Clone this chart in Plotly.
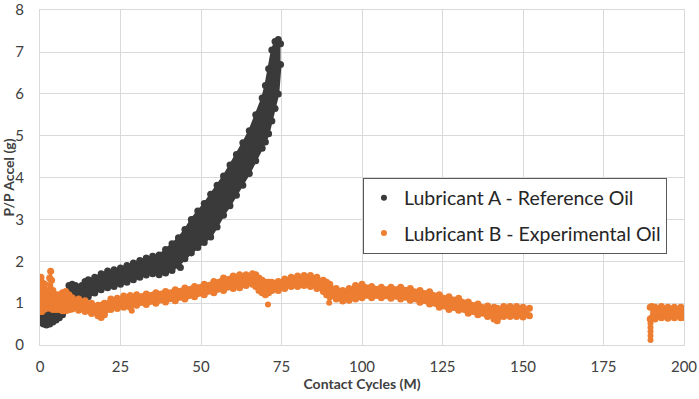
import plotly.graph_objects as go

# ---------------- data ----------------
# Lubricant A - Reference Oil : band of scattered points (lower / upper envelope)
a_x  = [0, 0.5, 1, 2, 3, 4, 5, 6, 7, 8, 9, 10, 11, 12, 13, 14, 15, 17, 19, 21, 23, 25, 27, 29,
        31, 33, 35, 37, 39, 41, 43, 45, 47, 49, 51, 53, 55, 57, 59, 61, 63, 65, 67, 69, 70, 71,
        72, 73, 74, 74.7]
a_lo = [0.58, 0.55, 0.5, 0.48, 0.5, 0.55, 0.6, 0.65, 0.72, 0.85, 1.05, 1.1, 1.05, 1.02, 1.03,
        1.1, 1.15, 1.24, 1.32, 1.37, 1.4, 1.45, 1.5, 1.56, 1.62, 1.67, 1.7, 1.68, 1.72, 1.78,
        1.9, 2.06, 2.2, 2.33, 2.45, 2.58, 2.82, 3.1, 3.33, 3.58, 3.82, 4.1, 4.4, 4.7, 4.85,
        5.05, 5.35, 5.65, 6.0, 6.7]
a_hi = [1.1, 1.0, 0.75, 0.68, 0.75, 0.8, 0.85, 0.92, 1.0, 1.1, 1.42, 1.45, 1.42, 1.38, 1.42,
        1.52, 1.56, 1.62, 1.7, 1.77, 1.8, 1.84, 1.9, 1.96, 2.02, 2.08, 2.12, 2.15, 2.28, 2.42,
        2.56, 2.76, 3.0, 3.2, 3.38, 3.6, 3.82, 4.04, 4.3, 4.55, 4.83, 5.12, 5.5, 5.9, 6.2, 6.6,
        7.05, 7.25, 7.3, 7.2]
a_out_x = [43.6]
a_out_y = [1.85]

# Lubricant B - Experimental Oil : first run (lower / upper envelope)
b_x  = [0, 0.3, 0.6, 1, 1.5, 2, 2.5, 3, 3.3, 3.6, 4, 5, 6, 7, 8, 9, 10, 12, 14, 16, 18, 19, 20,
        22, 24, 26, 28, 30, 33, 36, 39, 42, 45, 48, 51, 54, 57, 60, 62, 64, 66, 67, 68, 69, 70,
        71, 72, 74, 76, 78, 80, 82, 84, 86, 88, 89, 90, 92, 94, 96, 98, 100, 103, 106, 109, 112,
        115, 118, 121, 124, 127, 130, 133, 136, 139, 141, 142, 144, 146, 148, 150, 152]
b_lo = [0.8, 0.85, 0.8, 0.85, 0.9, 0.9, 0.88, 0.9, 0.95, 0.9, 0.85, 0.85, 0.85, 0.82, 0.82,
        0.84, 0.86, 0.83, 0.8, 0.75, 0.7, 0.66, 0.72, 0.85, 0.87, 0.9, 0.9, 0.95, 0.97, 1.0,
        1.03, 1.06, 1.1, 1.15, 1.2, 1.25, 1.3, 1.35, 1.37, 1.42, 1.45, 1.4, 1.3, 1.25, 1.2,
        1.25, 1.3, 1.3, 1.35, 1.4, 1.4, 1.42, 1.4, 1.35, 1.28, 1.2, 1.15, 1.1, 1.05, 1.07,
        1.1, 1.13, 1.13, 1.13, 1.12, 1.1, 1.07, 1.02, 0.98, 0.9, 0.85, 0.83, 0.76, 0.72, 0.68,
        0.62, 0.58, 0.68, 0.68, 0.68, 0.67, 0.7]
b_hi = [1.2, 1.62, 1.5, 1.25, 1.45, 1.3, 1.25, 1.6, 1.76, 1.55, 1.3, 1.2, 1.2, 1.25, 1.28,
        1.2, 1.13, 1.1, 1.06, 1.0, 0.95, 0.95, 1.0, 1.1, 1.12, 1.17, 1.18, 1.2, 1.22, 1.25,
        1.28, 1.32, 1.36, 1.4, 1.45, 1.52, 1.6, 1.65, 1.68, 1.68, 1.7, 1.68, 1.6, 1.55, 1.5,
        1.5, 1.5, 1.52, 1.58, 1.62, 1.65, 1.66, 1.66, 1.62, 1.55, 1.5, 1.45, 1.35, 1.3, 1.35,
        1.42, 1.45, 1.4, 1.38, 1.38, 1.38, 1.35, 1.3, 1.27, 1.2, 1.15, 1.12, 1.03, 0.98, 0.93,
        0.9, 0.88, 0.92, 0.92, 0.92, 0.9, 0.88]
# second run
b2_x  = [189.5, 190, 191, 193, 195, 197, 199, 200]
b2_lo = [0.62, 0.65, 0.62, 0.65, 0.64, 0.65, 0.65, 0.66]
b2_hi = [0.9, 0.92, 0.9, 0.92, 0.9, 0.9, 0.9, 0.88]
b_out_x = [28.5, 70.8, 89.8, 189.6, 189.6, 189.6, 189.6, 189.6]
b_out_y = [0.82, 0.97, 1.01, 0.12, 0.22, 0.32, 0.42, 0.52]

x_ticks = [0, 25, 50, 75, 100, 125, 150, 175, 200]
y_ticks = [0, 1, 2, 3, 4, 5, 6, 7, 8]

name_a = "Lubricant A - Reference Oil"
name_b = "Lubricant B - Experimental Oil"
col_a = "#3a3a3a"
col_b = "#ed7d31"

fig = go.Figure()


def band(xs, lo, hi, color):
    fig.add_trace(go.Scatter(x=xs, y=lo, mode="lines+markers", line=dict(color=color, width=2),
                             marker=dict(size=7, color=color), showlegend=False, hoverinfo="skip"))
    fig.add_trace(go.Scatter(x=xs, y=hi, mode="lines+markers", line=dict(color=color, width=2),
                             marker=dict(size=7, color=color), fill="tonexty", fillcolor=color,
                             showlegend=False, hoverinfo="skip"))


band(a_x, a_lo, a_hi, col_a)
band(b_x, b_lo, b_hi, col_b)
band(b2_x, b2_lo, b2_hi, col_b)
fig.add_trace(go.Scatter(x=a_out_x, y=a_out_y, mode="markers", marker=dict(size=7, color=col_a),
                         showlegend=False))
fig.add_trace(go.Scatter(x=b_out_x, y=b_out_y, mode="markers", marker=dict(size=6, color=col_b),
                         showlegend=False))

# legend entries
fig.add_trace(go.Scatter(x=[None], y=[None], mode="markers", name=name_a,
                         marker=dict(size=6, color=col_a), legendgroup="a"))
fig.add_trace(go.Scatter(x=[None], y=[None], mode="markers", name=name_b,
                         marker=dict(size=6, color=col_b), legendgroup="b"))

axis_common = dict(showgrid=True, gridcolor="#d9d9d9", gridwidth=1, zeroline=False,
                   showline=True, linecolor="#d9d9d9", linewidth=1, mirror=True,
                   tickfont=dict(family="Lato", size=15, color="#404040"),
                   automargin=False, ticklabeloverflow="allow")

fig.update_xaxes(range=[0, 200], tickvals=x_ticks, ticktext=[str(v) for v in x_ticks],
                 ticklabelstandoff=8,
                 title=dict(text="Contact Cycles (M)", standoff=0,
                            font=dict(family="Lato", size=14, color="#404040", weight="bold")),
                 **axis_common)
fig.update_yaxes(range=[0, 8.005], tickvals=y_ticks, ticktext=[str(v) for v in y_ticks],
                 ticklabelstandoff=12,
                 title=dict(text="P/P Accel (g)", standoff=0,
                            font=dict(family="Lato", size=14, color="#404040", weight="bold")),
                 **axis_common)

fig.update_layout(
    width=699, height=399,
    margin=dict(l=40, r=15, t=10, b=54, autoexpand=False),
    plot_bgcolor="white", paper_bgcolor="white",
    font=dict(family="Lato", color="#404040"),
    legend=dict(x=0.5015, y=0.5, xanchor="left", yanchor="top",
                bgcolor="white", bordercolor="#595959", borderwidth=1,
                font=dict(family="Lato", size=19.5, color="#262626"),
                traceorder="grouped", tracegroupgap=7, itemwidth=30),
)

fig.write_html("out.html", config={"displayModeBar": False},
               post_script="document.body.style.margin='0';document.body.style.overflow='hidden';")
